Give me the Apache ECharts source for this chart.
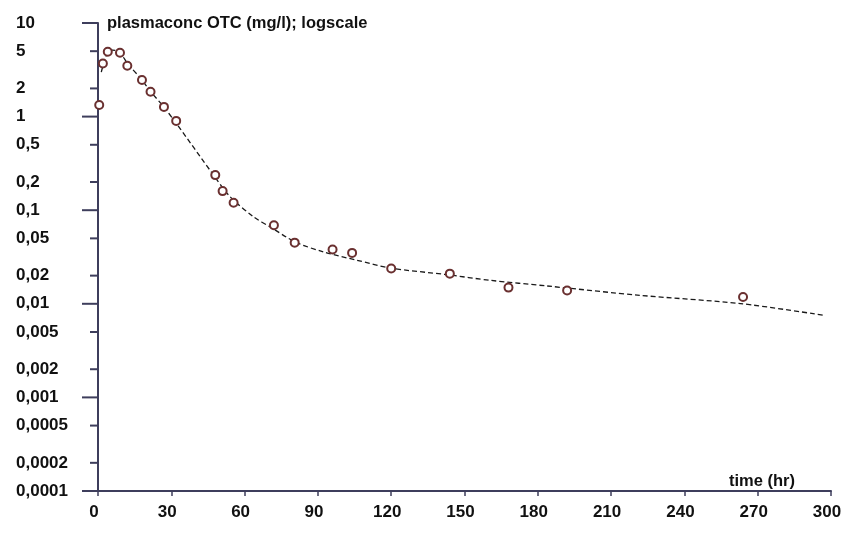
<!DOCTYPE html>
<html>
<head>
<meta charset="utf-8">
<script src="https://cdn.jsdelivr.net/npm/echarts@6/dist/echarts.min.js"></script>
<style>html,body{margin:0;padding:0;background:#fff}#c{width:849px;height:537px}</style>
</head>
<body>
<div id="c"></div>
<script>
// Observed data (time in hr, plasma concentration in mg/l)
const obsTime = [0.5, 2, 4, 9, 12, 18, 21.5, 27, 32, 48, 51, 55.5, 72, 80.5, 96, 104, 120, 144, 168, 192, 264];
const obsConc = [1.33, 3.7, 4.93, 4.8, 3.49, 2.46, 1.84, 1.27, 0.90, 0.237, 0.16, 0.12, 0.069, 0.045, 0.038, 0.035, 0.0238, 0.021, 0.0149, 0.0139, 0.0118];
// Fitted curve
const fitTime = [1.35, 3.8, 5.9, 8.7, 12.3, 17.7, 21.4, 26.7, 31.6, 47.3, 54.1, 63.7, 70.5, 80.7, 92.3, 106, 119.6, 142.8, 160.6, 183.8, 222, 263, 297];
const fitConc = [2.99, 4.78, 5.14, 4.9, 3.64, 2.52, 1.87, 1.29, 0.879, 0.237, 0.139, 0.0848, 0.0662, 0.0458, 0.0358, 0.0292, 0.0241, 0.0205, 0.0178, 0.0155, 0.0123, 0.01005, 0.00754];
// Y axis ticks
const yTickValues = [10, 5, 2, 1, 0.5, 0.2, 0.1, 0.05, 0.02, 0.01, 0.005, 0.002, 0.001, 0.0005, 0.0002, 0.0001];
const yTickLabels = ['10', '5', '2', '1', '0,5', '0,2', '0,1', '0,05', '0,02', '0,01', '0,005', '0,002', '0,001', '0,0005', '0,0002', '0,0001'];
const yTickMajor = [1, 0, 0, 1, 0, 0, 1, 0, 0, 1, 0, 0, 1, 0, 0, 1];
const xTickInterval = 30;

const axisColor = '#3e3e5c';
const font = '"Liberation Sans", Arial, sans-serif';

const chart = echarts.init(document.getElementById('c'), null, {renderer: 'canvas'});
chart.setOption({
  animation: false,
  backgroundColor: '#ffffff',
  title: [
    {text: 'plasmaconc OTC (mg/l); logscale', left: 107, top: 15, padding: 0,
     textStyle: {fontFamily: font, fontWeight: 'bold', fontSize: 16.5, color: '#111'}},
    {text: 'time (hr)', left: 729, top: 473, padding: 0,
     textStyle: {fontFamily: font, fontWeight: 'bold', fontSize: 16.5, color: '#111'}}
  ],
  grid: {left: 98, right: 18, top: 23, bottom: 46, containLabel: false},
  xAxis: {
    type: 'value', min: 0, max: 300, interval: xTickInterval,
    axisLine: {show: true, onZero: false, lineStyle: {color: axisColor, width: 2}},
    axisTick: {show: true, length: 5, lineStyle: {color: axisColor, width: 1.5}},
    splitLine: {show: false},
    axisLabel: {margin: 13, fontFamily: font, fontWeight: 'bold', fontSize: 17, color: '#111', padding: [0, 8, 0, 0]}
  },
  yAxis: {
    type: 'log', logBase: 10, min: 0.0001, max: 10,
    axisLine: {show: true, onZero: false, lineStyle: {color: axisColor, width: 2}},
    axisTick: {show: false},
    axisLabel: {show: false},
    splitLine: {show: false}
  },
  series: [
    {
      type: 'custom',
      clip: false,
      silent: true,
      data: yTickValues.map((v, i) => [0, v, i]),
      encode: {x: 0, y: 1},
      renderItem: function (params, api) {
        const i = api.value(2);
        const p = api.coord([0, api.value(1)]);
        const len = yTickMajor[i] ? 16 : 8;
        return {
          type: 'group',
          children: [
            {type: 'line', shape: {x1: p[0] - len, y1: p[1], x2: p[0], y2: p[1]},
             style: {stroke: axisColor, lineWidth: 2}},
            {type: 'text', x: 16, y: p[1],
             style: {text: yTickLabels[i], fill: '#111', font: 'bold 17px ' + font,
                     textAlign: 'left', textVerticalAlign: 'middle'}}
          ]
        };
      },
      z: 5
    },
    {
      type: 'line',
      data: fitTime.map((t, i) => [t, fitConc[i]]),
      smooth: 0.3,
      showSymbol: false,
      lineStyle: {color: '#1a1a1a', width: 1.3, type: [5, 3]},
      z: 2
    },
    {
      type: 'scatter',
      data: obsTime.map((t, i) => [t, obsConc[i]]),
      symbol: 'emptyCircle',
      symbolSize: 8,
      itemStyle: {color: '#6a3030', borderColor: '#6a3030', borderWidth: 1.2, opacity: 1},
      z: 3
    }
  ]
});
</script>
</body>
</html>
